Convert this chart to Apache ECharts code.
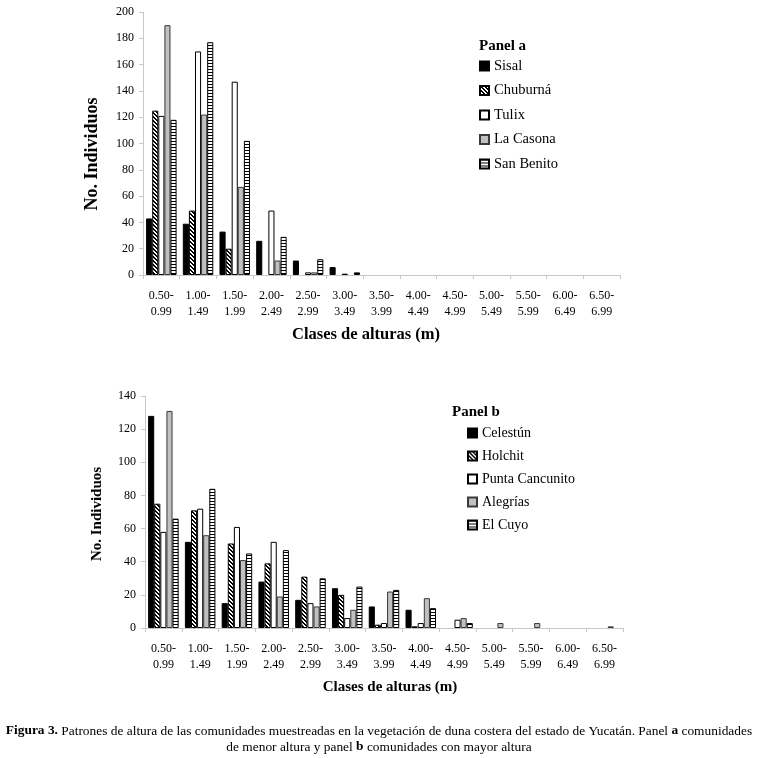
<!DOCTYPE html>
<html>
<head>
<meta charset="utf-8">
<script src="https://cdn.jsdelivr.net/npm/echarts@6/dist/echarts.min.js"></script>
<style>
html,body{margin:0;padding:0;background:#fff;}
#c{width:758px;height:758px;}
</style>
</head>
<body>
<div id="c"></div>
<script>
// ---- data ----
var categories = ['0.50-\n0.99','1.00-\n1.49','1.50-\n1.99','2.00-\n2.49','2.50-\n2.99','3.00-\n3.49','3.50-\n3.99','4.00-\n4.49','4.50-\n4.99','5.00-\n5.49','5.50-\n5.99','6.00-\n6.49','6.50-\n6.99'];

var namesA = ['Sisal','Chuburná','Tulix','La Casona','San Benito'];
var sisal     = [43, 39, 33, 26, 11, 6, 0, 0, 0, 0, 0, 0, 0];
var chuburna  = [125, 49, 20, 0, 0, 0, 0, 0, 0, 0, 0, 0, 0];
var tulix     = [121, 170, 147, 49, 2, 1, 0, 0, 0, 0, 0, 0, 0];
var laCasona  = [190, 122, 67, 11, 2, 0, 0, 0, 0, 0, 0, 0, 0];
var sanBenito = [118, 177, 102, 29, 12, 2, 0, 0, 0, 0, 0, 0, 0];

var namesB = ['Celestún','Holchit','Punta Cancunito','Alegrías','El Cuyo'];
var celestun  = [128, 52, 15, 28, 17, 24, 13, 11, 0, 0, 0, 0, 0];
var holchit   = [75, 71, 51, 39, 31, 20, 2, 1, 0, 0, 0, 0, 0];
var punta     = [58, 72, 61, 52, 15, 6, 3, 3, 5, 0, 0, 0, 0];
var alegrias  = [131, 56, 41, 19, 13, 11, 22, 18, 6, 3, 3, 0, 1];
var elCuyo    = [66, 84, 45, 47, 30, 25, 23, 12, 3, 0, 0, 0, 0];

var yTicksA = {min: 0, max: 200, interval: 20};
var yTicksB = {min: 0, max: 140, interval: 20};

// ---- patterns ----
function makeTile(w, h, fn) {
  var cv = document.createElement('canvas');
  cv.width = w; cv.height = h;
  var ctx = cv.getContext('2d');
  var img = ctx.createImageData(w, h);
  for (var y = 0; y < h; y++) for (var x = 0; x < w; x++) {
    var v = fn(x, y) ? 0 : 255;
    var i = (y * w + x) * 4;
    img.data[i] = v; img.data[i+1] = v; img.data[i+2] = v; img.data[i+3] = 255;
  }
  ctx.putImageData(img, 0, 0);
  return cv;
}
var hatchTile = makeTile(4, 4, function (x, y) { var d = ((x - y) % 4 + 4) % 4; return d === 0 || d === 1; });
var stripeTile = makeTile(1, 3, function (x, y) { return y === 0; });

var styles = [
  {color: '#000000', borderColor: '#000000', borderWidth: 1},
  {color: {image: hatchTile, repeat: 'repeat'}, borderColor: '#000000', borderWidth: 1},
  {color: '#ffffff', borderColor: '#000000', borderWidth: 1},
  {color: '#c0c0c0', borderColor: '#3a3a3a', borderWidth: 1},
  {color: {image: stripeTile, repeat: 'repeat'}, borderColor: '#000000', borderWidth: 1}
];

function toBars(arr) { return arr.map(function (v) { return v === 0 ? '-' : v; }); }

var FONT = 'Liberation Serif';

function xAxisFor(gi) {
  return {
    type: 'category', gridIndex: gi, data: categories,
    axisLine: {lineStyle: {color: '#c8c8c8', width: 1}},
    axisTick: {show: true, alignWithLabel: false, length: 4, lineStyle: {color: '#c8c8c8'}},
    axisLabel: {fontFamily: FONT, fontSize: 12, color: '#000', lineHeight: 16, margin: 13, interval: 0}
  };
}
function yAxisFor(gi, t) {
  return {
    type: 'value', gridIndex: gi, min: t.min, max: t.max, interval: t.interval,
    splitLine: {show: false},
    axisLine: {show: true, lineStyle: {color: '#c8c8c8', width: 1}},
    axisTick: {show: true, length: 4, lineStyle: {color: '#c8c8c8'}},
    axisLabel: {fontFamily: FONT, fontSize: 12, color: '#000', margin: 9}
  };
}

var dataA = [sisal, chuburna, tulix, laCasona, sanBenito];
var dataB = [celestun, holchit, punta, alegrias, elCuyo];
var series = [];
namesA.forEach(function (n, i) {
  series.push({type: 'bar', name: n, xAxisIndex: 0, yAxisIndex: 0, data: toBars(dataA[i]),
    barGap: '0%', barCategoryGap: '17%', itemStyle: styles[i], animation: false});
});
namesB.forEach(function (n, i) {
  series.push({type: 'bar', name: n, xAxisIndex: 1, yAxisIndex: 1, data: toBars(dataB[i]),
    barGap: '0%', barCategoryGap: '17%', itemStyle: styles[i], animation: false});
});

var legendCommon = {
  orient: 'vertical', icon: 'rect', itemWidth: 9, itemHeight: 9,
  selectedMode: false, padding: 0
};

function label(text, x, y, size, rot) {
  return {type: 'text', x: x, y: y, rotation: rot || 0, style: {
    text: text, fontFamily: FONT, fontSize: size, fontWeight: 'bold', fill: '#000',
    textAlign: 'center', textVerticalAlign: 'middle'
  }};
}

var chart = echarts.init(document.getElementById('c'), null, {renderer: 'canvas'});
chart.setOption({
  backgroundColor: '#ffffff',
  animation: false,
  title: [
    {text: 'Panel a', left: 479, top: 38.5, padding: 0, textStyle: {fontFamily: FONT, fontSize: 15, fontWeight: 'bold', color: '#000'}},
    {text: 'Panel b', left: 452, top: 404.5, padding: 0, textStyle: {fontFamily: FONT, fontSize: 15, fontWeight: 'bold', color: '#000'}}
  ],
  legend: [
    Object.assign({}, legendCommon, {data: namesA, left: 479, top: 58.5, itemGap: 9.5,
      textStyle: {fontFamily: FONT, fontSize: 14.5, color: '#000'}}),
    Object.assign({}, legendCommon, {data: namesB, left: 467, top: 426, itemGap: 9,
      textStyle: {fontFamily: FONT, fontSize: 14, color: '#000'}})
  ],
  grid: [
    {left: 143, right: 138, top: 12, bottom: 483},
    {left: 145, right: 135, top: 396, bottom: 130}
  ],
  xAxis: [xAxisFor(0), xAxisFor(1)],
  yAxis: [yAxisFor(0, yTicksA), yAxisFor(1, yTicksB)],
  series: series,
  graphic: [
    label('Clases de alturas (m)', 366, 335, 16.5),
    label('Clases de alturas (m)', 390, 687, 15),
    label('No. Individuos', 92, 154, 18, Math.PI / 2),
    label('No. Individuos', 97, 514, 15, Math.PI / 2),
    {type: 'text', x: 379, y: 731, style: {
      text: '{b|Figura 3.} Patrones de altura de las comunidades muestreadas en la vegetación de duna costera del estado de Yucatán. Panel {b|a} comunidades',
      fontFamily: FONT, fontSize: 13.4, fill: '#000', textAlign: 'center', textVerticalAlign: 'middle',
      rich: {b: {fontFamily: FONT, fontSize: 13.4, fontWeight: 'bold', fill: '#000'}}
    }},
    {type: 'text', x: 379, y: 747, style: {
      text: 'de menor altura y panel {b|b} comunidades con mayor altura',
      fontFamily: FONT, fontSize: 13.4, fill: '#000', textAlign: 'center', textVerticalAlign: 'middle',
      rich: {b: {fontFamily: FONT, fontSize: 13.4, fontWeight: 'bold', fill: '#000'}}
    }}
  ]
});
</script>
</body>
</html>
